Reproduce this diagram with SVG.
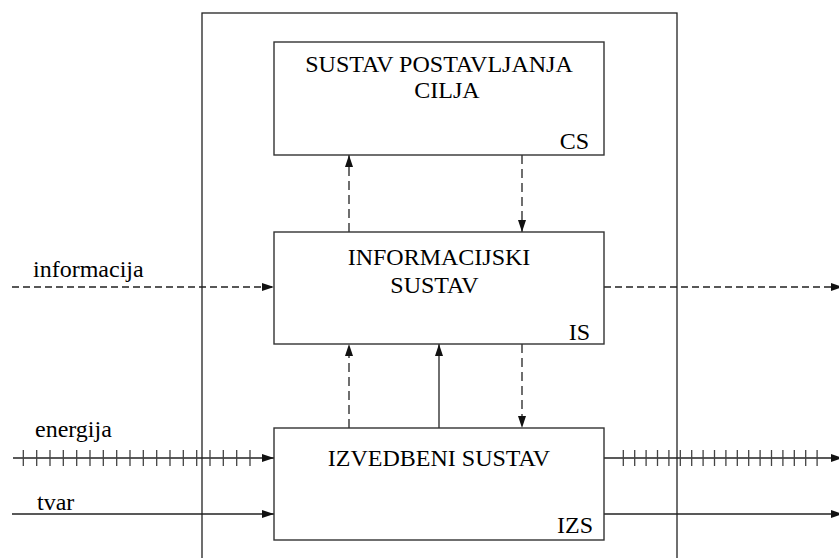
<svg xmlns="http://www.w3.org/2000/svg" width="839" height="558" viewBox="0 0 839 558">
<style>
.box{fill:#fff;stroke:#333;stroke-width:1.4}
.ln{stroke:#222;stroke-width:1.3;fill:none}
.dh{stroke-dasharray:7,4}
.dv{stroke-dasharray:9,5}
.tk{stroke:#444;stroke-width:1.3}
</style>
<defs>
<marker id="ah" markerUnits="userSpaceOnUse" markerWidth="12" markerHeight="10" viewBox="0 0 12 10" refX="12" refY="5" orient="auto">
<path d="M0,1 L12,5 L0,9 Z" fill="#111"/>
</marker>
</defs>
<rect x="202" y="13" width="475" height="560" fill="none" stroke="#222" stroke-width="1.3"/>
<g id="connectors">
<line class="ln dv" x1="349" y1="232" x2="349" y2="155" marker-end="url(#ah)"/>
<line class="ln dv" x1="522" y1="155" x2="522" y2="232" marker-end="url(#ah)"/>
<line class="ln dv" x1="349" y1="428" x2="349" y2="344" marker-end="url(#ah)"/>
<line class="ln" x1="439" y1="428" x2="439" y2="344" marker-end="url(#ah)"/>
<line class="ln dv" x1="522" y1="344" x2="522" y2="428" marker-end="url(#ah)"/>
<line class="ln dh" x1="12" y1="287" x2="274" y2="287" marker-end="url(#ah)"/>
<line class="ln dh" x1="604" y1="287" x2="843" y2="287" marker-end="url(#ah)"/>
<line class="ln" x1="13" y1="458" x2="274" y2="458" marker-end="url(#ah)"/>
<line class="ln" x1="604" y1="458" x2="843" y2="458" marker-end="url(#ah)"/>
<line class="ln" x1="12" y1="514" x2="274" y2="514" marker-end="url(#ah)"/>
<line class="ln" x1="604" y1="514" x2="843" y2="514" marker-end="url(#ah)"/>
<g class="tk">
<path d="M23.3,450v16 M36.7,450v16 M50,450v16 M63.3,450v16 M76.7,450v16 M90,450v16 M103.3,450v16 M116.7,450v16 M130,450v16 M143.3,450v16 M156.7,450v16 M170,450v16 M183.3,450v16 M196.7,450v16 M210,450v16 M223.3,450v16 M236.7,450v16 M250,450v16"/>
<path d="M623.3,450v16 M634.7,450v16 M646.1,450v16 M657.5,450v16 M668.9,450v16 M680.3,450v16 M691.7,450v16 M703.1,450v16 M714.5,450v16 M725.9,450v16 M737.3,450v16 M748.7,450v16 M760.1,450v16 M771.5,450v16 M782.9,450v16 M794.3,450v16 M805.7,450v16 M817.1,450v16"/>
</g>
</g>
<g id="CS">
<rect class="box" x="274" y="42" width="330" height="113"/>
<text x="439" y="72" text-anchor="middle" font-family="Liberation Serif" font-size="24">SUSTAV POSTAVLJANJA</text>
<text x="447" y="98" text-anchor="middle" font-family="Liberation Serif" font-size="24">CILJA</text>
<text x="589" y="149" text-anchor="end" font-family="Liberation Serif" font-size="24">CS</text>
</g>
<g id="IS">
<rect class="box" x="274" y="232" width="330" height="112"/>
<text x="439" y="265" text-anchor="middle" font-family="Liberation Serif" font-size="24">INFORMACIJSKI</text>
<text x="434.5" y="293" text-anchor="middle" font-family="Liberation Serif" font-size="24">SUSTAV</text>
<text x="590" y="340" text-anchor="end" font-family="Liberation Serif" font-size="24">IS</text>
</g>
<g id="IZS">
<rect class="box" x="274" y="428" width="330" height="112"/>
<text x="439" y="466" text-anchor="middle" font-family="Liberation Serif" font-size="24">IZVEDBENI SUSTAV</text>
<text x="593" y="533" text-anchor="end" font-family="Liberation Serif" font-size="24">IZS</text>
</g>
<g id="labels">
<text x="33" y="277" font-family="Liberation Serif" font-size="24">informacija</text>
<text x="35" y="437" font-family="Liberation Serif" font-size="24">energija</text>
<text x="37" y="510" font-family="Liberation Serif" font-size="24">tvar</text>
</g>
</svg>
